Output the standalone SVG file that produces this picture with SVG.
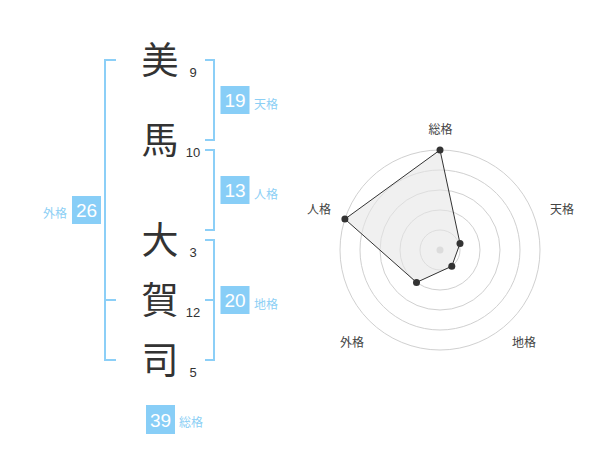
<svg xmlns="http://www.w3.org/2000/svg" width="600" height="470" viewBox="0 0 600 470">
<style>
.ch{font-family:"Noto Sans CJK JP","Noto Sans CJK SC",sans-serif;font-size:37px;fill:#333;text-anchor:middle}
.st{font-family:"Liberation Sans",Arial,sans-serif;font-size:13px;fill:#333;text-anchor:middle}
.bx{fill:#88cef7}
.bn{font-family:"Liberation Sans",Arial,sans-serif;font-size:19px;fill:#fff;text-anchor:middle}
.lb{font-family:"Noto Sans CJK JP","Noto Sans CJK SC",sans-serif;font-size:12px;fill:#8ccff5}
.br{fill:none;stroke:#8ccff7;stroke-width:2}
.ring{fill:none;stroke:#d0d0d0;stroke-width:1}
.rl{font-family:"Noto Sans CJK JP","Noto Sans CJK SC",sans-serif;font-size:12px;fill:#444;text-anchor:middle}
.pt{fill:#333}
</style>
<rect width="600" height="470" fill="#fff"/>
<g id="name">
<g id="c1"><text class="ch" x="160" y="74">美</text><text class="st" x="193" y="77">9</text></g>
<g id="c2"><text class="ch" x="160" y="154">馬</text><text class="st" x="193" y="157">10</text></g>
<g id="c3"><text class="ch" x="160" y="254">大</text><text class="st" x="193" y="257">3</text></g>
<g id="c4"><text class="ch" x="160" y="314">賀</text><text class="st" x="193" y="317">12</text></g>
<g id="c5"><text class="ch" x="160" y="374">司</text><text class="st" x="193" y="377">5</text></g>
</g>
<g id="brackets">
<path class="br" d="M116,60 H105 V360 H116 M105,300 H116"/>
<path class="br" d="M205,60 H214 V140 H205"/>
<path class="br" d="M205,150 H214 V230 H205"/>
<path class="br" d="M205,240 H214 V360 H205 M205,300 H214"/>
</g>
<g id="tenkaku"><rect class="bx" x="220.5" y="86" width="29" height="28"/><text class="bn" x="235" y="107">19</text><text class="lb" x="254" y="108.5">天格</text></g>
<g id="jinkaku"><rect class="bx" x="220.5" y="176" width="29" height="28"/><text class="bn" x="235" y="197">13</text><text class="lb" x="254" y="198.5">人格</text></g>
<g id="chikaku"><rect class="bx" x="220.5" y="286" width="29" height="28"/><text class="bn" x="235" y="307">20</text><text class="lb" x="254" y="308.5">地格</text></g>
<g id="gaikaku"><rect class="bx" x="72" y="196" width="29" height="28"/><text class="bn" x="86.5" y="217">26</text><text class="lb" x="67" y="218" text-anchor="end">外格</text></g>
<g id="soukaku"><rect class="bx" x="146" y="405" width="29" height="29"/><text class="bn" x="160.5" y="426.5">39</text><text class="lb" x="179" y="427">総格</text></g>
<g id="radar">
<circle class="ring" cx="440" cy="250" r="20"/>
<circle class="ring" cx="440" cy="250" r="40"/>
<circle class="ring" cx="440" cy="250" r="60"/>
<circle class="ring" cx="440" cy="250" r="80"/>
<circle class="ring" cx="440" cy="250" r="100"/>
<circle cx="440" cy="250" r="3.5" fill="#ccc"/>
<polygon points="440,150 460,243.5 451.8,266.2 416.5,282.4 344.9,219.1" fill="#e6e6e6" fill-opacity="0.6" stroke="#333" stroke-width="1"/>
<circle class="pt" cx="440" cy="150" r="3.5"/>
<circle class="pt" cx="460" cy="243.5" r="3.5"/>
<circle class="pt" cx="451.8" cy="266.2" r="3.5"/>
<circle class="pt" cx="416.5" cy="282.4" r="3.5"/>
<circle class="pt" cx="344.9" cy="219.1" r="3.5"/>
<text class="rl" x="440.5" y="134">総格</text>
<text class="rl" x="562" y="213.5">天格</text>
<text class="rl" x="524" y="346.5">地格</text>
<text class="rl" x="352" y="346.5">外格</text>
<text class="rl" x="319" y="213.5">人格</text>
</g>
</svg>
